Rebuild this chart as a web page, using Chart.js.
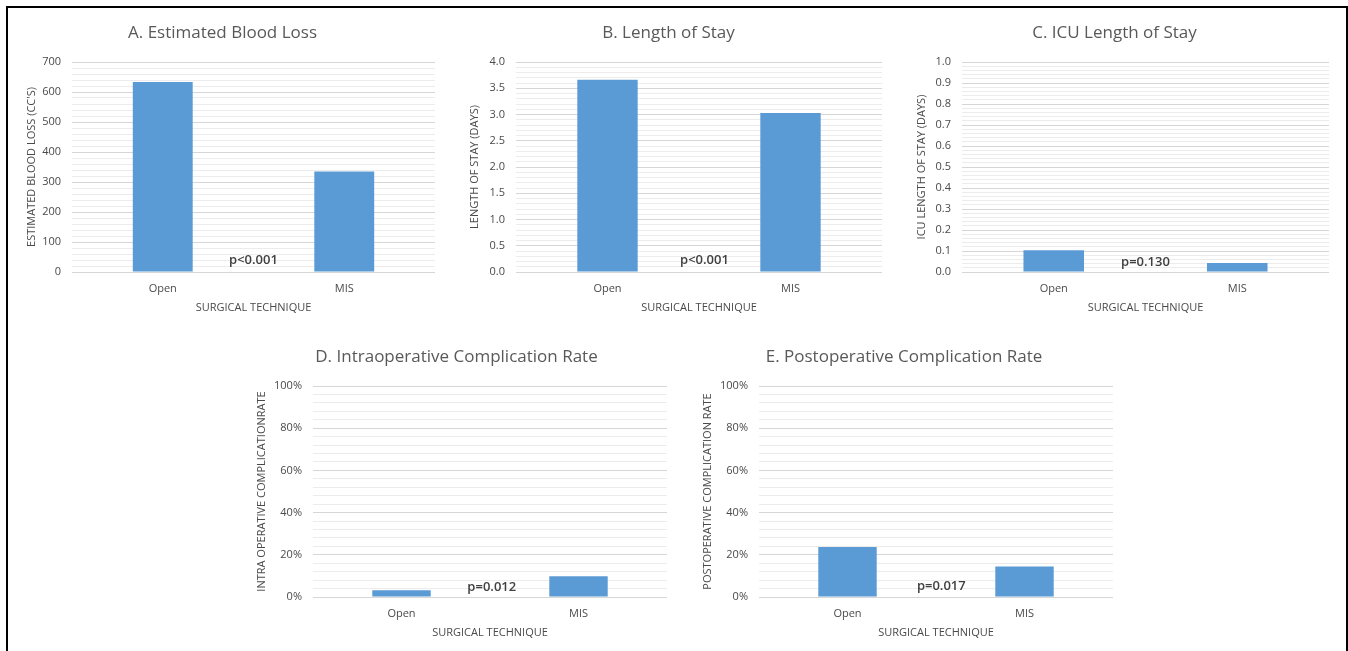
<!DOCTYPE html>
<html>
<head>
<meta charset="utf-8">
<script src="https://cdn.jsdelivr.net/npm/chart.js@4.4.0/dist/chart.umd.min.js"></script>
<style>
    body { margin: 0; background: #fff; width: 1348px; height: 651px; overflow: hidden; position: relative; }
    #frame { position: absolute; left: 6px; top: 6px; width: 1338px; height: 700px; border: 2px solid #000; }
    canvas { position: absolute; }
</style>
</head>
<body>
<div id="frame"></div>
<canvas id="cA"></canvas>
<canvas id="cB"></canvas>
<canvas id="cC"></canvas>
<canvas id="cD"></canvas>
<canvas id="cE"></canvas>
<script>
    var categories = ['Open', 'MIS']
    var bloodLoss = [633, 335]
    var lengthOfStay = [3.66, 3.03]
    var icuStay = [0.103, 0.043]
    var intraopRate = [0.032, 0.098]
    var postopRate = [0.237, 0.145]
    var pValues = ['p<0.001', 'p<0.001', 'p=0.130', 'p=0.012', 'p=0.017']
    var chartTitles = ['A. Estimated Blood Loss', 'B. Length of Stay', 'C. ICU Length of Stay',
        'D. Intraoperative Complication Rate', 'E. Postoperative Complication Rate']
    var yTitles = ["ESTIMATED BLOOD LOSS (CC'S)", 'LENGTH OF STAY (DAYS)', 'ICU LENGTH OF STAY (DAYS)',
        'INTRA OPERATIVE COMPLICATIONRATE', 'POSTOPERATIVE COMPLICATION RATE']
    var xTitle = 'SURGICAL TECHNIQUE'

    Chart.defaults.font.family = '"Open Sans", sans-serif'
    Chart.defaults.color = '#595959'

    // draws the p-value between the two bars
    var pLabel = {
        id: 'pLabel',
        afterDatasetsDraw: function (chart, args, opts) {
            var ctx = chart.ctx
            var x = chart.scales.x.getPixelForValue(opts.x)
            var y = chart.scales.y.getPixelForValue(opts.y)
            ctx.save()
            ctx.font = '600 13px "Open Sans"'
            ctx.fillStyle = '#404040'
            ctx.textAlign = 'center'
            ctx.textBaseline = 'middle'
            ctx.fillText(opts.text, x, y)
            ctx.restore()
        }
    }

    function makeChart(id, c) {
        var el = document.getElementById(id)
        el.width = c.box.w
        el.height = c.box.h
        el.style.left = c.box.x + 'px'
        el.style.top = c.box.y + 'px'

        var titleTop = c.titleY - c.box.y - 10.2
        var titleBottom = c.plot.t - c.box.y - titleTop - 20.4
        var yWidth = c.plot.l - c.box.x
        var xHeight = c.box.y + c.box.h - c.plot.b

        function isMajor(v) {
            var r = v / c.major
            return Math.abs(r - Math.round(r)) < 1e-6
        }

        return new Chart(el, {
            type: 'bar',
            data: {
                labels: categories,
                datasets: [{
                    data: c.values,
                    backgroundColor: '#5b9bd5',
                    barPercentage: 1,
                    categoryPercentage: 0.33
                }]
            },
            options: {
                responsive: false,
                animation: false,
                layout: { padding: { left: 0, right: c.box.x + c.box.w - c.plot.r, top: 0, bottom: 0 } },
                plugins: {
                    legend: { display: false },
                    tooltip: { enabled: false },
                    title: {
                        display: true,
                        text: c.title,
                        color: '#595959',
                        font: { size: 17, weight: 'normal' },
                        padding: { top: titleTop, bottom: titleBottom }
                    },
                    pLabel: { text: c.p, x: c.px, y: c.py }
                },
                scales: {
                    x: {
                        grid: { display: false, drawTicks: false },
                        border: { display: false },
                        ticks: { padding: 10, font: { size: 11 }, color: '#4a4a4a' },
                        title: {
                            display: true, text: xTitle, color: '#4a4a4a',
                            font: { size: 11 }, padding: { top: 0, bottom: xHeight - 36 - 6.6 }
                        },
                        afterFit: function (s) { s.height = xHeight }
                    },
                    y: {
                        min: c.min,
                        max: c.max,
                        border: { display: false },
                        grid: {
                            drawTicks: false,
                            color: function (ctx) {
                                return ctx.tick && isMajor(ctx.tick.value) ? '#d6d6d6' : '#ececec'
                            }
                        },
                        ticks: {
                            stepSize: c.minor,
                            autoSkip: false,
                            padding: 11,
                            font: { size: 11 },
                            color: '#4a4a4a',
                            callback: function (v) { return isMajor(v) ? c.fmt(v) : '' }
                        },
                        title: {
                            display: true, text: c.yTitle, color: '#4a4a4a',
                            font: { size: 11 }, padding: { top: c.yTitleX - c.box.x - 6.6, bottom: 0 }
                        },
                        afterFit: function (s) { s.width = yWidth }
                    }
                }
            },
            plugins: [pLabel]
        })
    }

    function fmtInt(v) { return String(Math.round(v)) }
    function fmt1(v) { return v.toFixed(1) }
    function fmtPct(v) { return Math.round(v * 100) + '%' }

    makeChart('cA', {
        box: { x: 10, y: 10, w: 435, h: 320 }, plot: { l: 72, t: 62, r: 435, b: 272 },
        titleY: 33, yTitleX: 32, values: bloodLoss, min: 0, max: 700, minor: 20, major: 100,
        fmt: fmtInt, title: chartTitles[0], yTitle: yTitles[0], p: pValues[0], px: 0.5, py: 40
    })
    makeChart('cB', {
        box: { x: 455, y: 10, w: 440, h: 320 }, plot: { l: 516, t: 62, r: 882, b: 272 },
        titleY: 33, yTitleX: 475, values: lengthOfStay, min: 0, max: 4, minor: 0.1, major: 0.5,
        fmt: fmt1, title: chartTitles[1], yTitle: yTitles[1], p: pValues[1], px: 0.53, py: 0.23
    })
    makeChart('cC', {
        box: { x: 900, y: 10, w: 440, h: 320 }, plot: { l: 962, t: 62, r: 1329, b: 272 },
        titleY: 33, yTitleX: 922, values: icuStay, min: 0, max: 1, minor: 0.02, major: 0.1,
        fmt: fmt1, title: chartTitles[2], yTitle: yTitles[2], p: pValues[2], px: 0.5, py: 0.048
    })
    makeChart('cD', {
        box: { x: 246, y: 335, w: 425, h: 316 }, plot: { l: 313, t: 386, r: 667, b: 597 },
        titleY: 357, yTitleX: 262, values: intraopRate, min: 0, max: 1, minor: 0.04, major: 0.2,
        fmt: fmtPct, title: chartTitles[3], yTitle: yTitles[3], p: pValues[3], px: 0.51, py: 0.047
    })
    makeChart('cE', {
        box: { x: 695, y: 335, w: 422, h: 316 }, plot: { l: 759, t: 386, r: 1113, b: 597 },
        titleY: 357, yTitleX: 708, values: postopRate, min: 0, max: 1, minor: 0.04, major: 0.2,
        fmt: fmtPct, title: chartTitles[4], yTitle: yTitles[4], p: pValues[4], px: 0.53, py: 0.052
    })
</script>
</body>
</html>
